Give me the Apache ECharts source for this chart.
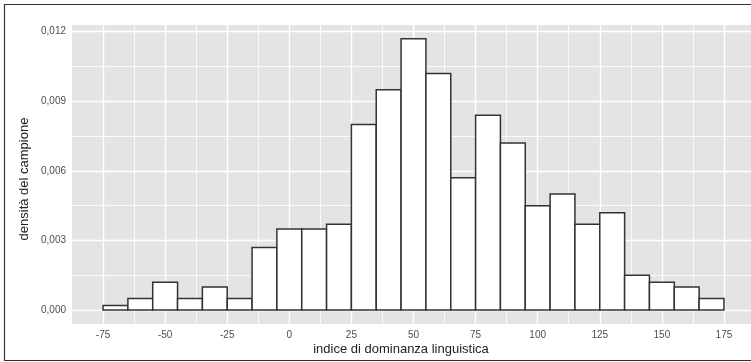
<!DOCTYPE html>
<html>
<head>
<meta charset="utf-8">
<style>html,body{margin:0;padding:0;background:#fff;}#c{width:751px;height:362px;}</style>
<script src="https://cdn.jsdelivr.net/npm/echarts@6/dist/echarts.min.js"></script>
</head>
<body>
<div id="c"></div>
<script>
// ---- data ----
const binEdges = [-75,-65,-55,-45,-35,-25,-15,-5,5,15,25,35,45,55,65,75,85,95,105,115,125,135,145,155,165,175];
const densities = [0.0002,0.0005,0.0012,0.0005,0.0010,0.0005,0.0027,0.0035,0.0035,0.0037,0.0080,0.0095,0.0117,0.0102,0.0057,0.0084,0.0072,0.0045,0.0050,0.0037,0.0042,0.0015,0.0012,0.0010,0.0005];
const xMajorTicks = [-75,-50,-25,0,25,50,75,100,125,150,175];
const xMinorTicks = [-62.5,-37.5,-12.5,12.5,37.5,62.5,87.5,112.5,137.5,162.5];
const yMajorTicks = [0,0.003,0.006,0.009,0.012];
const yMinorTicks = [0.0015,0.0045,0.0075,0.0105];
const xTitle = 'indice di dominanza linguistica';
const yTitle = 'densità del campione';

const FONT = '"Liberation Sans", Arial, sans-serif';
const X_MIN = -87.5, X_MAX = 187.5, Y_MIN = -0.0006, Y_MAX = 0.01229;

const histData = densities.map((d, i) => [binEdges[i], binEdges[i+1], d]);

function xAxisDef(ticks, showLabel, width) {
  return {
    type: 'value', min: X_MIN, max: X_MAX, gridIndex: 0, position: 'bottom', offset: 0,
    axisLine: {show: false},
    axisTick: {show: false, customValues: ticks},
    axisLabel: {show: showLabel, customValues: ticks, margin: 6, color: '#4d4d4d', fontSize: 10, fontFamily: FONT, formatter: v => String(v)},
    splitLine: {show: true, lineStyle: {color: '#ffffff', width: width}}
  };
}
function yAxisDef(ticks, showLabel, width) {
  return {
    type: 'value', min: Y_MIN, max: Y_MAX, gridIndex: 0, position: 'left', offset: 0,
    axisLine: {show: false},
    axisTick: {show: false, customValues: ticks},
    axisLabel: {show: showLabel, customValues: ticks, margin: 6, color: '#4d4d4d', fontSize: 10, fontFamily: FONT,
      formatter: v => v.toFixed(3).replace('.', ',')},
    splitLine: {show: true, lineStyle: {color: '#ffffff', width: width}}
  };
}

const chart = echarts.init(document.getElementById('c'), null, {renderer: 'canvas'});
chart.setOption({
  animation: false,
  backgroundColor: '#ffffff',
  grid: {left: 72, top: 25, width: 683, height: 299, show: true, backgroundColor: '#e4e4e4', borderWidth: 0,
         containLabel: false, outerBoundsMode: 'none'},
  xAxis: [xAxisDef(xMinorTicks, false, 0.8), xAxisDef(xMajorTicks, true, 1.4)],
  yAxis: [yAxisDef(yMinorTicks, false, 0.8), yAxisDef(yMajorTicks, true, 1.4)],
  series: [{
    type: 'custom',
    xAxisIndex: 1, yAxisIndex: 1,
    data: histData,
    encode: {x: [0, 1], y: 2},
    renderItem: function (params, api) {
      const p0 = api.coord([api.value(0), 0]);
      const p1 = api.coord([api.value(1), api.value(2)]);
      return {
        type: 'rect',
        shape: {x: p0[0], y: p1[1], width: p1[0] - p0[0], height: p0[1] - p1[1]},
        style: {fill: '#ffffff', stroke: '#333333', lineWidth: 1.5}
      };
    }
  }],
  graphic: [
    {type: 'rect', shape: {x: 4.5, y: 4.5, width: 780, height: 356}, style: {fill: null, stroke: '#333333', lineWidth: 1.2}, z: 100},
    {type: 'text', x: 401, y: 349, style: {text: xTitle, fontSize: 13, fontFamily: FONT, fill: '#222222', align: 'center', verticalAlign: 'middle'}},
    {type: 'text', x: 24, y: 179, rotation: Math.PI / 2, style: {text: yTitle, fontSize: 13, fontFamily: FONT, fill: '#222222', align: 'center', verticalAlign: 'middle'}}
  ]
});
</script>
</body>
</html>
